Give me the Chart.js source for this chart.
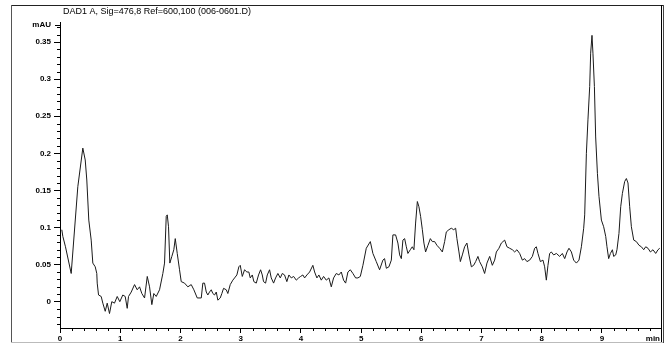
<!DOCTYPE html>
<html>
<head>
<meta charset="utf-8">
<title>DAD1 A, Sig=476,8 Ref=600,100 (006-0601.D)</title>
<script src="https://cdn.jsdelivr.net/npm/chart.js@4"></script>
<style>
  html, body { margin: 0; padding: 0; background: #fff; }
  canvas { display: block; }
</style>
</head>
<body>
<canvas id="chrom" width="666" height="343"></canvas>
<script>
// Signal trace: retention time (min) and absorbance (mAU)
const retentionTime = [
  0.030,0.047,0.091,0.186,0.296,0.379,0.419,0.445,0.478,0.518,
  0.545,0.585,0.611,0.618,0.640,0.684,0.711,0.751,0.784,0.822,
  0.860,0.905,0.950,0.993,1.043,1.083,1.116,1.138,1.183,1.238,
  1.282,1.321,1.359,1.404,1.449,1.487,1.525,1.558,1.598,1.653,
  1.708,1.736,1.764,1.781,1.802,1.824,1.857,1.890,1.914,1.947,
  1.985,2.013,2.068,2.123,2.179,2.223,2.279,2.346,2.372,
  2.400,2.429,2.455,2.483,2.512,2.538,2.566,2.595,2.621,2.661,
  2.688,2.716,2.761,2.787,2.827,2.870,2.899,2.937,2.970,2.993,
  3.027,3.065,3.103,3.136,3.159,3.193,3.219,3.259,3.297,3.331,
  3.359,3.380,3.414,3.442,3.480,3.508,3.547,3.580,3.618,3.658,
  3.691,3.729,3.767,3.801,3.841,3.879,3.924,3.962,3.995,4.033,
  4.062,4.100,4.145,4.199,4.228,4.266,4.299,4.339,4.377,4.422,
  4.465,4.505,4.543,4.588,4.631,4.671,4.709,4.743,4.781,4.821,
  4.864,4.909,4.947,4.987,5.030,5.086,5.153,5.196,5.252,5.307,
  5.362,5.390,5.419,5.462,5.502,5.528,5.573,5.611,5.640,5.668,
  5.694,5.723,5.751,5.777,5.817,5.850,5.877,5.905,5.934,5.960,
  5.988,6.017,6.043,6.071,6.110,6.150,6.183,6.221,6.259,6.304,
  6.349,6.387,6.415,6.458,6.498,6.537,6.570,6.591,6.625,6.648,
  6.681,6.719,6.757,6.791,6.831,6.869,6.902,6.940,6.968,7.013,
  7.051,7.090,7.135,7.179,7.218,7.246,7.289,7.329,7.384,7.422,
  7.467,7.512,7.550,7.588,7.633,7.678,7.716,7.754,7.799,7.844,
  7.882,7.910,7.937,7.977,8.020,8.048,8.076,8.103,8.131,8.159,
  8.198,8.243,8.297,8.342,8.381,8.419,8.452,8.492,8.530,8.575,
  8.618,
  8.658,8.696,8.713,8.741,8.767,8.796,8.812,8.834,8.850,8.874,
  8.895,8.924,8.950,8.990,9.028,9.062,9.083,9.111,9.140,9.173,
  9.194,9.228,9.249,9.282,9.311,9.339,9.377,9.405,9.432,9.460,
  9.488,9.527,9.571,9.615,9.654,9.693,9.726,9.764,9.804,9.847,
  9.892,9.930,9.959
];

const absorbance = [
  0.097,0.088,0.074,0.038,0.155,0.207,0.191,0.164,0.110,0.083,
  0.052,0.047,0.038,0.025,0.009,0.007,-0.002,-0.013,-0.002,-0.016,
  0.000,-0.002,0.007,0.000,0.009,0.007,-0.009,0.007,0.013,0.023,
  0.016,0.020,0.011,0.005,0.034,0.020,-0.004,0.011,0.007,0.016,
  0.038,0.052,0.115,0.117,0.101,0.052,0.061,0.070,0.085,0.065,
  0.043,0.027,0.025,0.020,0.023,0.016,0.005,0.005,0.025,
  0.025,0.013,0.009,0.013,0.016,0.011,0.009,0.013,0.002,0.005,
  0.011,0.018,0.016,0.011,0.023,0.029,0.032,0.036,0.047,0.049,
  0.034,0.043,0.040,0.040,0.032,0.036,0.027,0.025,0.036,0.043,
  0.036,0.027,0.025,0.036,0.043,0.032,0.025,0.032,0.038,0.032,
  0.038,0.036,0.027,0.036,0.032,0.034,0.029,0.032,0.034,0.036,
  0.032,0.036,0.040,0.049,0.040,0.032,0.036,0.029,0.034,0.029,
  0.032,0.020,0.032,0.038,0.036,0.040,0.029,0.025,0.040,0.043,
  0.038,0.032,0.032,0.034,0.049,0.072,0.081,0.065,0.054,0.043,
  0.056,0.058,0.045,0.047,0.056,0.090,0.090,0.079,0.063,0.058,
  0.083,0.085,0.074,0.065,0.070,0.074,0.070,0.106,0.135,0.128,
  0.115,0.097,0.079,0.067,0.076,0.085,0.081,0.081,0.076,0.072,
  0.067,0.081,0.094,0.097,0.099,0.097,0.099,0.085,0.067,0.054,
  0.063,0.074,0.079,0.063,0.047,0.049,0.054,0.061,0.054,0.047,
  0.038,0.052,0.061,0.049,0.056,0.067,0.072,0.079,0.083,0.074,
  0.072,0.070,0.067,0.070,0.065,0.056,0.058,0.054,0.056,0.061,
  0.072,0.074,0.065,0.054,0.056,0.047,0.029,0.049,0.065,0.067,
  0.063,0.065,0.061,0.065,0.058,0.067,0.072,0.067,0.056,0.052,
  0.056,
  0.074,0.099,0.117,0.200,0.245,0.290,0.335,0.359,0.335,0.290,
  0.222,0.173,0.142,0.110,0.101,0.088,0.074,0.058,0.065,0.070,
  0.061,0.063,0.070,0.092,0.128,0.146,0.162,0.166,0.160,0.128,
  0.101,0.083,0.081,0.076,0.074,0.070,0.074,0.072,0.067,0.070,
  0.065,0.070,0.072
];

const signalTitle = 'DAD1 A, Sig=476,8 Ref=600,100 (006-0601.D)';
const yUnit = 'mAU';
const xUnit = 'min';

const timeRange = [0, 9.98];
const absRange = [-0.0355, 0.377];

const FONT = '"Liberation Sans", Arial, sans-serif';

// Minor ticks, axis captions, title and the surrounding frame
const decorations = {
  id: 'decorations',
  afterDraw(chart) {
    const { ctx, chartArea: a, scales: { x, y } } = chart;
    ctx.save();

    ctx.strokeStyle = '#000';
    ctx.lineWidth = 1;
    ctx.beginPath();
    for (let i = -3; i <= 37; i++) {
      if (i % 5 === 0) continue;
      const py = Math.round(y.getPixelForValue(i / 100)) + 0.5;
      ctx.moveTo(a.left - 3, py);
      ctx.lineTo(a.left, py);
    }
    for (let i = 1; i < 50; i++) {
      if (i % 5 === 0) continue;
      const px = Math.round(x.getPixelForValue(i / 5)) + 0.5;
      ctx.moveTo(px, a.bottom);
      ctx.lineTo(px, a.bottom + 3);
    }
    // unit tick at the top of the y axis
    ctx.moveTo(a.left - 5, a.top + 3.5);
    ctx.lineTo(a.left, a.top + 3.5);
    ctx.stroke();

    ctx.fillStyle = '#000';
    ctx.font = 'bold 8px ' + FONT;
    ctx.textBaseline = 'middle';
    ctx.textAlign = 'right';
    ctx.fillText(yUnit, a.left - 9, a.top + 3);
    ctx.fillText(xUnit, a.right - 1, a.bottom + 11);

    ctx.font = '9px ' + FONT;
    ctx.textAlign = 'left';
    ctx.fillText(signalTitle, 63, 11.5);

    // frame
    ctx.lineWidth = 1;
    ctx.strokeStyle = '#222';
    ctx.beginPath();
    ctx.moveTo(11, 5.5); ctx.lineTo(663, 5.5);
    ctx.stroke();
    ctx.strokeStyle = '#555';
    ctx.beginPath();
    ctx.moveTo(11.5, 5); ctx.lineTo(11.5, 343);
    ctx.stroke();
    ctx.strokeStyle = '#000';
    ctx.beginPath();
    ctx.moveTo(661.5, 5); ctx.lineTo(661.5, 343);
    ctx.stroke();
    ctx.strokeStyle = '#444';
    ctx.beginPath();
    ctx.moveTo(663.5, 5); ctx.lineTo(663.5, 343);
    ctx.stroke();
    ctx.strokeStyle = '#bbb';
    ctx.beginPath();
    ctx.moveTo(11, 342.5); ctx.lineTo(663, 342.5);
    ctx.stroke();

    ctx.restore();
  }
};

new Chart(document.getElementById('chrom'), {
  type: 'line',
  data: {
    datasets: [{
      data: retentionTime.map((t, i) => ({ x: t, y: absorbance[i] })),
      borderColor: '#1a1a1a',
      borderWidth: 1,
      pointRadius: 0,
      tension: 0,
      fill: false
    }]
  },
  options: {
    responsive: false,
    animation: false,
    events: [],
    layout: { padding: { left: 10, right: 5, top: 22, bottom: 0 } },
    plugins: {
      legend: { display: false },
      title: { display: false },
      tooltip: { enabled: false }
    },
    scales: {
      x: {
        type: 'linear',
        min: timeRange[0],
        max: timeRange[1],
        afterFit(scale) { scale.height = 15; },
        grid: { drawOnChartArea: false, drawTicks: true, tickLength: 5, tickColor: '#000' },
        border: { display: true, color: '#000', width: 1 },
        ticks: {
          stepSize: 1,
          includeBounds: false,
          autoSkip: false,
          maxRotation: 0,
          padding: 1,
          color: '#000',
          font: { family: FONT, size: 8, weight: 'bold' },
          callback: v => String(v)
        }
      },
      y: {
        type: 'linear',
        min: absRange[0],
        max: absRange[1],
        afterFit(scale) { scale.width = 50; },
        grid: { drawOnChartArea: false, drawTicks: true, tickLength: 6, tickColor: '#000' },
        border: { display: true, color: '#000', width: 1 },
        ticks: {
          stepSize: 0.05,
          includeBounds: false,
          autoSkip: false,
          padding: 3,
          color: '#000',
          font: { family: FONT, size: 8, weight: 'bold' },
          callback: v => String(Number(v.toFixed(2)))
        }
      }
    }
  },
  plugins: [decorations]
});
</script>
</body>
</html>
